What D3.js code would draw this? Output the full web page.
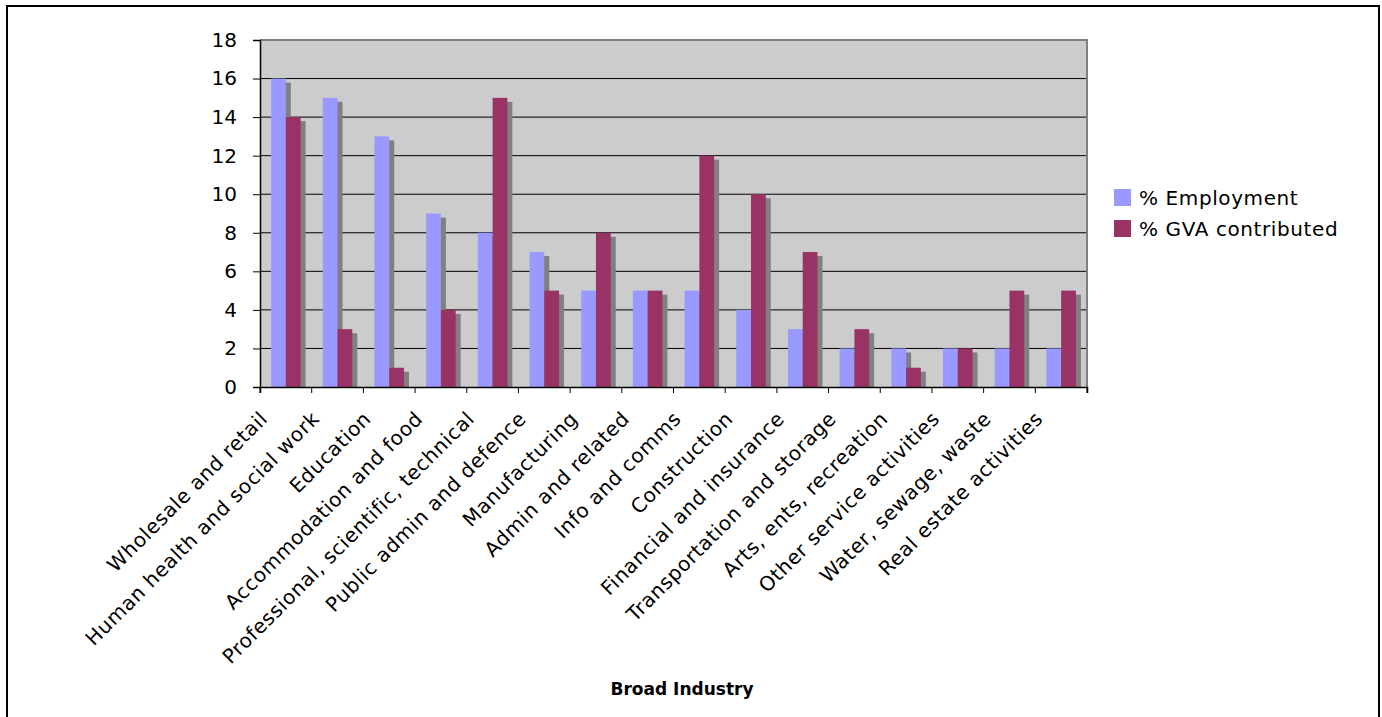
<!DOCTYPE html>
<html>
<head>
<meta charset="utf-8">
<script src="https://cdn.jsdelivr.net/npm/d3@7"></script>
<style>
  body { margin: 0; background: #fff; }
  svg { display: block; font-family: "DejaVu Sans", Verdana, sans-serif; }
</style>
</head>
<body>
<div id="chart"></div>
<script>
const industries = [
  "Wholesale and retail", "Human health and social work", "Education",
  "Accommodation and food", "Professional, scientific, technical",
  "Public admin and defence", "Manufacturing", "Admin and related",
  "Info and comms", "Construction", "Financial and insurance",
  "Transportation and storage", "Arts, ents, recreation",
  "Other service activities", "Water, sewage, waste", "Real estate activities"
];
const seriesNames = ["% Employment", "% GVA contributed"];
const employment = [16, 15, 13, 9, 8, 7, 5, 5, 5, 4, 3, 2, 2, 2, 2, 2];
const gva = [14, 3, 1, 4, 15, 5, 8, 5, 12, 10, 7, 3, 1, 2, 5, 5];
const yTicks = [0, 2, 4, 6, 8, 10, 12, 14, 16, 18];
const colours = ["#9999ff", "#993366"];

const width = 1382, height = 717;
const plot = { left: 260, right: 1087, top: 40, bottom: 387 };

const svg = d3.select("#chart").append("svg")
  .attr("width", width)
  .attr("height", height);

// outer frame
svg.append("rect")
  .attr("x", 7).attr("y", 6)
  .attr("width", 1372).attr("height", 720)
  .attr("fill", "none")
  .attr("stroke", "#000")
  .attr("stroke-width", 2);

const x = d3.scaleBand()
  .domain(industries)
  .range([plot.left, plot.right]);

const xInner = d3.scaleBand()
  .domain(seriesNames)
  .range([0, x.bandwidth()])
  .paddingOuter(0.75);

const y = d3.scaleLinear()
  .domain([0, 18])
  .range([plot.bottom, plot.top]);

// plot background
svg.append("rect")
  .attr("x", plot.left).attr("y", plot.top)
  .attr("width", plot.right - plot.left)
  .attr("height", plot.bottom - plot.top)
  .attr("fill", "#cccccc");

// gridlines
svg.append("g")
  .selectAll("line")
  .data(yTicks.filter(d => d > 0 && d < 18))
  .join("line")
  .attr("x1", plot.left).attr("x2", plot.right)
  .attr("y1", d => y(d)).attr("y2", d => y(d))
  .attr("stroke", "#000")
  .attr("stroke-width", 1);

const rows = industries.map((name, i) => ({
  name,
  values: [
    { key: seriesNames[0], value: employment[i] },
    { key: seriesNames[1], value: gva[i] }
  ]
}));

svg.append("clipPath").attr("id", "plot-clip")
  .append("rect")
  .attr("x", plot.left).attr("y", plot.top)
  .attr("width", plot.right - plot.left)
  .attr("height", plot.bottom - plot.top);

const groups = svg.append("g")
  .attr("clip-path", "url(#plot-clip)")
  .selectAll("g")
  .data(rows)
  .join("g")
  .attr("transform", d => `translate(${x(d.name)},0)`);

// shadows first, then bars
groups.selectAll("rect.shadow")
  .data(d => d.values)
  .join("rect")
  .attr("class", "shadow")
  .attr("x", d => xInner(d.key) + 5)
  .attr("y", d => y(d.value) + 4)
  .attr("width", xInner.bandwidth())
  .attr("height", d => y(0) - y(d.value))
  .attr("fill", "#808080");

groups.selectAll("rect.bar")
  .data(d => d.values)
  .join("rect")
  .attr("class", "bar")
  .attr("x", d => xInner(d.key))
  .attr("y", d => y(d.value))
  .attr("width", xInner.bandwidth())
  .attr("height", d => y(0) - y(d.value))
  .attr("fill", (d, i) => colours[i]);

// plot border (top and right)
svg.append("path")
  .attr("d", `M${plot.left},${plot.top}H${plot.right}V${plot.bottom}`)
  .attr("fill", "none")
  .attr("stroke", "#808080")
  .attr("stroke-width", 2);

// y axis
const yAxis = svg.append("g")
  .attr("transform", `translate(${plot.left},0)`)
  .call(d3.axisLeft(y).tickValues(yTicks).tickSize(7).tickPadding(16));
yAxis.select(".domain").attr("stroke", "#000").attr("stroke-width", 1.5);
yAxis.selectAll(".tick line").attr("stroke", "#000");
yAxis.selectAll(".tick text")
  .attr("font-family", "DejaVu Sans, Verdana, sans-serif")
  .attr("font-size", 20)
  .attr("fill", "#000");

// x axis
const xAxis = svg.append("g")
  .attr("transform", `translate(0,${plot.bottom})`)
  .call(d3.axisBottom(x).tickSize(6).tickFormat(""));
xAxis.select(".domain").attr("stroke", "#000").attr("stroke-width", 1.5);
xAxis.selectAll(".tick").remove();

const boundaries = industries.map(d => x(d)).concat([plot.right]);
xAxis.selectAll("line.bound")
  .data(boundaries)
  .join("line")
  .attr("class", "bound")
  .attr("x1", d => d).attr("x2", d => d)
  .attr("y1", 0).attr("y2", 6)
  .attr("stroke", "#000");

svg.append("g")
  .selectAll("text")
  .data(industries)
  .join("text")
  .attr("transform", d => `translate(${x(d) + x.bandwidth() / 2 - 17},420) rotate(-45)`)
  .attr("text-anchor", "end")
  .attr("font-size", 20)
  .attr("letter-spacing", 0.6)
  .attr("fill", "#000")
  .text(d => d);

// axis title
svg.append("text")
  .attr("x", 682).attr("y", 695)
  .attr("text-anchor", "middle")
  .attr("font-size", 17)
  .attr("font-weight", "bold")
  .attr("fill", "#000")
  .text("Broad Industry");

// legend
const legend = svg.append("g")
  .attr("transform", "translate(1114,189)")
  .selectAll("g")
  .data(seriesNames)
  .join("g")
  .attr("transform", (d, i) => `translate(0,${i * 31})`);

legend.append("rect")
  .attr("width", 17).attr("height", 17)
  .attr("fill", (d, i) => colours[i]);

legend.append("text")
  .attr("x", 25).attr("y", 16)
  .attr("font-size", 20)
  .attr("letter-spacing", 0.6)
  .attr("fill", "#000")
  .text(d => d);
</script>
</body>
</html>
